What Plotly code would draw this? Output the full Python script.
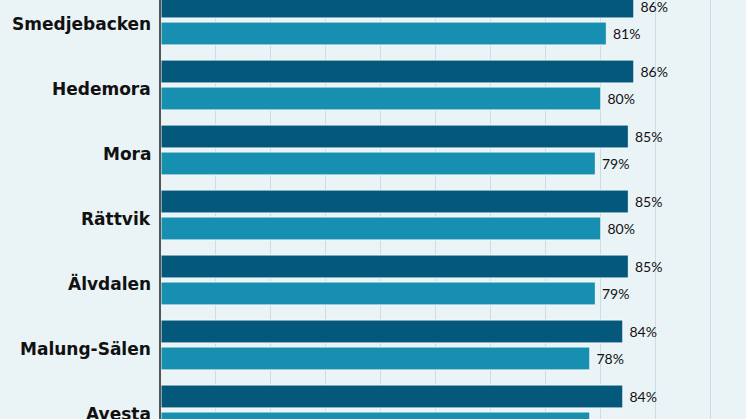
import plotly.graph_objects as go

# Kommuner (visible slice of the chart)
kommuner = ["Smedjebacken", "Hedemora", "Mora", "Rättvik", "Älvdalen", "Malung-Sälen", "Avesta"]
serie_a = [86, 86, 85, 85, 85, 84, 84]
serie_b = [81, 80, 79, 80, 79, 78, 78]

DARK = "#03587B"
LIGHT = "#178FB1"
BG = "#EAF3F5"
GRID = "#C7DEE7"

fig = go.Figure()
for vals, color in ((serie_a, DARK), (serie_b, LIGHT)):
    fig.add_bar(
        y=kommuner,
        x=vals,
        orientation="h",
        marker=dict(color=color, line=dict(color="#F4F9FA", width=1)),
        text=[f" {v}%" for v in vals],
        textposition="outside",
        cliponaxis=False,
        textfont=dict(family="Lato", size=14, color="#111111"),
    )

# category names drawn as annotations so they can sit a little below the group centre
for name in kommuner:
    fig.add_annotation(
        x=0, xref="paper", xanchor="right", xshift=-8,
        y=name, yref="y", yshift=-4,
        text=name, showarrow=False,
        font=dict(family="DejaVu Sans", size=17, color="#111111", weight="bold"),
    )

fig.update_layout(
    width=746,
    height=419,
    margin=dict(l=161, r=0, t=0, b=0, autoexpand=False),
    paper_bgcolor=BG,
    plot_bgcolor=BG,
    showlegend=False,
    barmode="group",
    bargap=0.17,
    bargroupgap=0.15,
    xaxis=dict(
        range=[0, 106.4],
        dtick=10,
        showgrid=True,
        gridcolor=GRID,
        gridwidth=1,
        showticklabels=False,
        zeroline=False,
        showline=False,
        automargin=False,
    ),
    yaxis=dict(
        range=[6.139, -0.308],
        showgrid=False,
        showline=True,
        linecolor="#555555",
        linewidth=1.5,
        ticks="",
        showticklabels=False,
        automargin=False,
    ),
)

# drop the default page margin so the figure sits at the window's corner
fig.write_html(
    "out.html",
    config={"displayModeBar": False},
    post_script="document.body.style.margin='0';document.body.style.overflow='hidden';",
)
